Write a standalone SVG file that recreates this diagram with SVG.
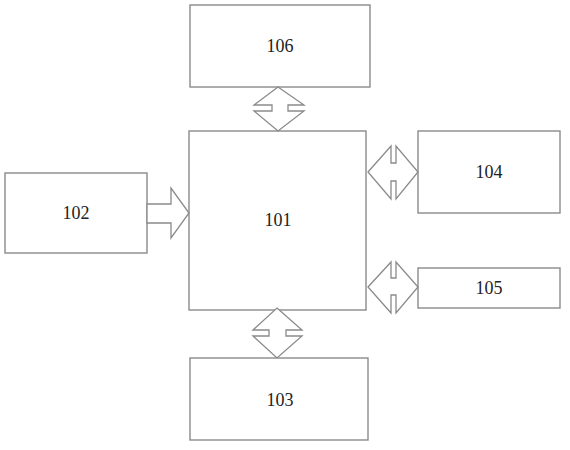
<svg xmlns="http://www.w3.org/2000/svg" width="570" height="450" viewBox="0 0 570 450">
<style>
.box{fill:#fff;stroke:#8a8a8a;stroke-width:1.4}
.arr{fill:#fff;stroke:#8a8a8a;stroke-width:1.3;stroke-linejoin:miter}
.lbl{font-family:"Liberation Serif","DejaVu Serif",serif;font-size:18px;fill:#222;text-anchor:middle;dominant-baseline:central}
</style>
<rect width="570" height="450" fill="#fff"/>
<g id="n106"><rect class="box" x="190" y="5" width="180" height="82"/><text class="lbl" x="280" y="46">106</text></g>
<g id="n101"><rect class="box" x="189" y="131" width="177" height="179"/><text class="lbl" x="278" y="220">101</text></g>
<g id="n102"><rect class="box" x="5" y="173" width="142" height="80"/><text class="lbl" x="76" y="213">102</text></g>
<g id="n104"><rect class="box" x="418" y="131" width="142" height="82"/><text class="lbl" x="489" y="172">104</text></g>
<g id="n105"><rect class="box" x="418" y="268" width="142" height="40"/><text class="lbl" x="489" y="288">105</text></g>
<g id="n103"><rect class="box" x="190" y="358" width="178" height="82"/><text class="lbl" x="280" y="400">103</text></g>
<g id="connectors">
<polygon class="arr" points="278,87 304,105 288,105 288,111 304,111 278,131 254,111 272,111 272,105 254,105"/>
<polygon class="arr" points="277,308 302,330 286,330 286,336 302,336 277,358 253,336 269,336 269,330 253,330"/>
<polygon class="arr" points="368,172 391,146 391,163 396,163 396,146 418,172 396,199 396,181 391,181 391,199"/>
<polygon class="arr" points="368,287 391,262 391,278 396,278 396,262 418,287 396,313 396,295 391,295 391,313"/>
<polygon class="arr" points="147,204 171,204 171,188 189,213 171,238 171,223 147,223"/>
</g>
</svg>
